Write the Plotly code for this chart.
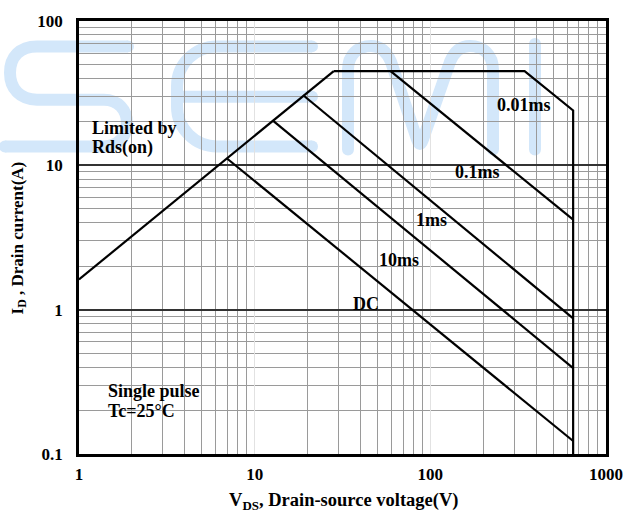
import plotly.graph_objects as go

# ---------------- data ----------------
rds_v = [1, 28.2]
rds_i = [1.62, 45.0]

ms001_v = [28.2, 344, 650, 650]
ms001_i = [45.0, 45.0, 24.0, 0.1]

ms01_v = [59.4, 650]
ms01_i = [45.0, 4.2]

ms1_v = [18.9, 650]
ms1_i = [30.6, 0.87]

ms10_v = [12.65, 650]
ms10_i = [20.5, 0.394]

dc_v = [6.93, 650]
dc_i = [11.2, 0.123]

x_tickvals = [1, 10, 100, 1000]
x_ticktext = ["1", "10", "100", "1000"]
y_tickvals = [0.1, 1, 10, 100]
y_ticktext = ["0.1", "1", "10", "100"]

x_minor = [m * d for d in (1, 10, 100) for m in range(2, 10)]
y_minor = [round(m * d, 3) for d in (0.1, 1, 10) for m in range(2, 10)]

# ---------------- layout geometry ----------------
W, H = 638, 513
L, R, T, B = 79, 32, 19, 59
PW, PH = W - L - R, H - T - B
FONT = "Liberation Serif"


def px(x):
    return (x - L) / PW


def py(y):
    return (H - B - y) / PH


def path(cmds):
    out = []
    for c, pts in cmds:
        out.append(c + " " + " ".join(f"{px(a):.5f},{py(b):.5f}" for a, b in pts))
    return " ".join(out)


fig = go.Figure()

line_style = dict(color="black", width=2.2)
for v, i in [(rds_v, rds_i), (ms001_v, ms001_i), (ms01_v, ms01_i),
             (ms1_v, ms1_i), (ms10_v, ms10_i), (dc_v, dc_i)]:
    fig.add_trace(go.Scatter(x=v, y=i, mode="lines", line=line_style,
                             showlegend=False, hoverinfo="skip"))

# ---------------- watermark "SEMI" ----------------
WM = "#d3e7fa"
WMW = 12
wm_paths = [
    [("M", [(128, 44.5)]), ("L", [(37, 44.5)]),
     ("C", [(20, 44.5), (10, 55), (10, 71)]),
     ("C", [(10, 87), (20, 98), (37, 98)]),
     ("L", [(104, 98)]),
     ("C", [(118, 98), (127, 108), (127, 121.5)]),
     ("C", [(127, 135), (118, 145), (104, 145)]),
     ("L", [(5, 145)])],
    [("M", [(312, 44.5)]), ("L", [(217, 44.5)]),
     ("C", [(195, 44.5), (177, 62.5), (177, 84.5)]),
     ("L", [(177, 105)]),
     ("C", [(177, 127), (195, 145), (217, 145)]),
     ("L", [(312, 145)])],
    [("M", [(177, 95)]), ("L", [(312, 95)])],
    [("M", [(348, 148)]), ("L", [(348, 68)]),
     ("C", [(348, 53), (358, 44), (371, 44)]),
     ("C", [(381, 44), (387, 50), (391, 60)]),
     ("L", [(417, 138)]),
     ("Q", [(420, 147), (423, 138)]),
     ("L", [(450, 60)]),
     ("C", [(454, 50), (460, 44), (470, 44)]),
     ("C", [(483, 44), (493, 53), (493, 68)]),
     ("L", [(493, 148)])],
    [("M", [(535, 42)]), ("L", [(535, 148)])],
]
shapes = []
for p in wm_paths:
    shapes.append(dict(type="path", xref="paper", yref="paper", layer="below",
                       path=path(p), line=dict(color=WM, width=WMW)))
caps = [(128, 44.5), (5, 145), (312, 44.5), (312, 145), (312, 95),
        (348, 148), (493, 148), (535, 42), (535, 148)]
r = WMW / 2
for cx, cy in caps:
    shapes.append(dict(type="circle", xref="paper", yref="paper", layer="below",
                       x0=px(cx - r), x1=px(cx + r), y0=py(cy + r), y1=py(cy - r),
                       fillcolor=WM, line=dict(width=0)))

# ---------------- annotations ----------------
ann = []


def add_text(text, x, y, xanchor="center", angle=0, size=18):
    ann.append(dict(text=text, x=px(x), y=py(y), xref="paper", yref="paper",
                    xanchor=xanchor, yanchor="middle", showarrow=False,
                    font=dict(family=FONT, size=size, color="black", weight="bold"),
                    textangle=angle))


add_text("0.01ms", 523.5, 103)
add_text("0.1ms", 477.5, 171)
add_text("1ms", 431.5, 219)
add_text("10ms", 399, 259)
add_text("DC", 365.5, 303.5)
add_text("Limited by", 90, 126.5, "left")
add_text("Rds(on)", 90, 146.5, "left")
add_text("Single pulse", 105.5, 391, "left")
add_text("Tc=25°C", 106, 411, "left")
add_text("V<sub>DS</sub>, Drain-source voltage(V)", 343, 502, size=18.5)
add_text("I<sub>D</sub> , Drain current(A)", 18.5, 237, angle=-90, size=17)

axis_common = dict(
    type="log", showline=True, mirror=True, linecolor="black", linewidth=2.5,
    ticks="", tickfont=dict(family=FONT, size=17, color="black", weight="bold"),
    zeroline=False, tickmode="array",
)

fig.update_layout(
    width=W, height=H,
    margin=dict(l=L, r=R, t=T, b=B, pad=0),
    paper_bgcolor="white", plot_bgcolor="rgba(0,0,0,0)",
    shapes=shapes, annotations=ann, showlegend=False,
    xaxis=dict(axis_common, range=[0, 3], tickvals=x_tickvals, ticktext=x_ticktext,
               showgrid=True, gridcolor="#e2e2e2", gridwidth=1.3,
               ticklabelstandoff=3,
               minor=dict(tickmode="array", tickvals=x_minor, showgrid=True,
                          gridcolor="#9a9a9a", gridwidth=1.3, ticks="")),
    yaxis=dict(axis_common, range=[-1, 2], tickvals=y_tickvals, ticktext=y_ticktext,
               showgrid=True, gridcolor="#333333", gridwidth=1.5,
               ticklabelstandoff=10,
               minor=dict(tickmode="array", tickvals=y_minor, showgrid=True,
                          gridcolor="#9a9a9a", gridwidth=1.3, ticks="")),
)

fig.write_html("out.html")
